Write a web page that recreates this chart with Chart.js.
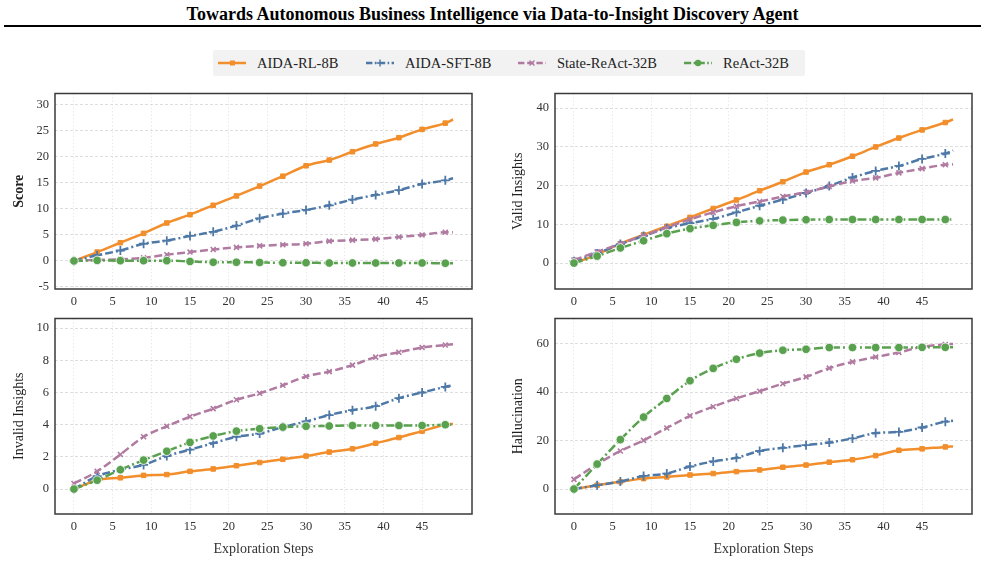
<!DOCTYPE html>
<html>
<head>
<meta charset="utf-8">
<script src="https://cdn.jsdelivr.net/npm/chart.js"></script>
<style>
    body { margin: 0; background: #fff; width: 985px; height: 577px; position: relative; overflow: hidden; font-family: "Liberation Serif", "DejaVu Serif", serif; }
    #title { position: absolute; left: 0; top: 4px; width: 985px; text-align: center; font-weight: bold; font-size: 18px; color: #000; }
    #rule { position: absolute; left: 4px; top: 25px; width: 977px; height: 2px; background: #000; }
    #legend { position: absolute; left: 213px; top: 50px; width: 592px; height: 26px; background: #f2f2f2; border-radius: 2px; display: flex; align-items: center; font-size: 14.5px; color: #222; }
    .item { display: flex; align-items: center; position: absolute; top: 0; height: 26px; }
    .item canvas { margin-right: 10px; }
    canvas.panel { position: absolute; }
</style>
</head>
<body>
<div id="title">Towards Autonomous Business Intelligence via Data-to-Insight Discovery Agent</div>
<div id="rule"></div>
<div id="legend"></div>

<canvas class="panel" id="chart-score" width="490" height="230" style="left:0px;top:80px"></canvas>
<canvas class="panel" id="chart-valid" width="495" height="230" style="left:490px;top:80px"></canvas>
<canvas class="panel" id="chart-invalid" width="490" height="255" style="left:0px;top:305px"></canvas>
<canvas class="panel" id="chart-hallu" width="495" height="255" style="left:490px;top:305px"></canvas>

<script>
// Exploration steps (markers every 3 steps, last point at 49)
const steps = [0, 3, 6, 9, 12, 15, 18, 21, 24, 27, 30, 33, 36, 39, 42, 45, 48, 49];
const xTicks = [0, 5, 10, 15, 20, 25, 30, 35, 40, 45];

const seriesNames = ['AIDA-RL-8B', 'AIDA-SFT-8B', 'State-ReAct-32B', 'ReAct-32B'];

// Score
const scoreRL = [0, 1.7, 3.5, 5.3, 7.3, 8.9, 10.7, 12.5, 14.4, 16.3, 18.3, 19.4, 21.0, 22.5, 23.7, 25.3, 26.5, 27.2];
const scoreSFT = [0, 1.1, 2.0, 3.3, 3.9, 4.8, 5.6, 6.8, 8.2, 9.1, 9.8, 10.7, 11.8, 12.7, 13.6, 14.8, 15.5, 15.9];
const scoreState = [0, 0.2, 0.3, 0.6, 1.2, 1.7, 2.2, 2.6, 2.9, 3.1, 3.3, 3.8, 4.0, 4.2, 4.6, 5.0, 5.5, 5.5];
const scoreReAct = [0, 0.1, 0.05, 0.05, 0.05, -0.1, -0.25, -0.25, -0.3, -0.35, -0.35, -0.4, -0.4, -0.4, -0.4, -0.4, -0.45, -0.45];
const scoreTicks = [-5, 0, 5, 10, 15, 20, 25, 30];

// Valid Insights
const validRL = [0, 2.2, 5.0, 7.3, 9.5, 11.8, 14.1, 16.3, 18.7, 21.0, 23.5, 25.4, 27.6, 30.0, 32.3, 34.4, 36.3, 37.1];
const validSFT = [0.5, 2.5, 4.9, 7.0, 9.0, 10.3, 11.4, 13.1, 14.8, 16.4, 18.1, 19.9, 22.1, 23.8, 25.1, 26.9, 28.3, 29.1];
const validState = [0.8, 2.9, 5.0, 7.1, 9.2, 11.3, 13.1, 14.7, 15.9, 17.2, 18.3, 19.8, 21.2, 22.0, 23.3, 24.4, 25.4, 25.5];
const validReAct = [0, 1.8, 3.9, 5.75, 7.6, 8.9, 9.75, 10.5, 10.9, 11.1, 11.2, 11.25, 11.25, 11.25, 11.25, 11.25, 11.25, 11.25];
const validTicks = [0, 10, 20, 30, 40];

// Invalid Insights
const invalidRL = [0, 0.55, 0.7, 0.85, 0.9, 1.1, 1.25, 1.45, 1.65, 1.85, 2.05, 2.3, 2.5, 2.85, 3.2, 3.6, 4.0, 4.05];
const invalidSFT = [0, 0.8, 1.2, 1.5, 2.05, 2.45, 2.85, 3.25, 3.45, 3.85, 4.2, 4.6, 4.9, 5.15, 5.65, 6.0, 6.35, 6.45];
const invalidState = [0.35, 1.1, 2.15, 3.25, 3.9, 4.5, 5.0, 5.55, 5.95, 6.45, 7.0, 7.3, 7.7, 8.2, 8.5, 8.8, 8.95, 9.0];
const invalidReAct = [0, 0.55, 1.2, 1.8, 2.35, 2.9, 3.3, 3.6, 3.75, 3.85, 3.9, 3.92, 3.95, 3.95, 3.95, 3.95, 4.0, 4.0];
const invalidTicks = [0, 2, 4, 6, 8, 10];

// Hallucination
const halluRL = [0, 1.6, 3.0, 4.3, 5.0, 5.8, 6.4, 7.2, 7.9, 9.0, 9.9, 11.1, 12.1, 13.8, 16.0, 16.6, 17.4, 17.6];
const halluSFT = [0, 1.6, 3.1, 5.4, 6.4, 9.3, 11.4, 12.9, 15.7, 17.0, 18.1, 19.2, 20.9, 23.1, 23.6, 25.4, 27.8, 28.2];
const halluState = [4.0, 10.3, 15.7, 20.1, 25.2, 30.2, 34.0, 37.4, 40.4, 43.5, 46.3, 49.9, 52.5, 54.5, 56.4, 58.7, 59.7, 59.9];
const halluReAct = [0, 10.3, 20.4, 29.7, 37.4, 44.7, 49.8, 53.6, 56.1, 57.3, 57.7, 58.4, 58.4, 58.4, 58.4, 58.5, 58.5, 58.5];
const halluTicks = [0, 20, 40, 60];

// Styles per series
const styles = [
    { color: '#f28e2b', dash: [], point: 'rect', radius: 3.2, border: 1 },
    { color: '#4e79a7', dash: [8, 3, 2, 3], point: 'cross', radius: 4.5, border: 1.8 },
    { color: '#b07aa1', dash: [8, 3.5], point: 'crossRot', radius: 3.5, border: 1.6 },
    { color: '#59a14f', dash: [9, 3, 2, 3], point: 'circle', radius: 4.3, border: 0.8 }
];

const FONT = '"Liberation Serif", "DejaVu Serif", serif';

// Four-sided frame around plot area
const framePlugin = {
    id: 'frame',
    afterDraw(chart) {
        const a = chart.chartArea;
        const ctx = chart.ctx;
        ctx.save();
        ctx.strokeStyle = '#3a3a3a';
        ctx.lineWidth = 1.5;
        ctx.strokeRect(a.left, a.top, a.right - a.left, a.bottom - a.top);
        ctx.restore();
    }
};

function makeChart(id, seriesList, opts) {
    const datasets = seriesList.map((values, i) => {
        const s = styles[i];
        return {
            label: seriesNames[i],
            data: steps.map((x, k) => ({ x, y: values[k] })),
            borderColor: s.color,
            backgroundColor: s.color,
            borderWidth: 2.5,
            borderDash: s.dash,
            cubicInterpolationMode: 'monotone',
            pointStyle: s.point,
            pointRadius: ctx => (ctx.raw && ctx.raw.x % 3 === 0) ? s.radius : 0,
            pointBorderWidth: s.border,
            pointBorderColor: s.point === 'circle' ? '#ffffff' : s.color,
            pointBackgroundColor: s.color,
            order: 3 - i
        };
    });

    return new Chart(document.getElementById(id), {
        type: 'line',
        data: { datasets },
        options: {
            responsive: false,
            animation: false,
            devicePixelRatio: 1,
            layout: { padding: { left: opts.padLeft, right: opts.padRight, top: opts.padTop, bottom: 0 } },
            plugins: { legend: { display: false }, tooltip: { enabled: false } },
            scales: {
                x: {
                    type: 'linear',
                    min: -2.45,
                    max: 51.45,
                    afterBuildTicks: scale => { scale.ticks = xTicks.map(v => ({ value: v })); },
                    afterFit: scale => { scale.height = opts.xHeight; },
                    ticks: { color: '#333', font: { family: FONT, size: 12.5 }, padding: 5, maxRotation: 0 },
                    grid: { color: '#e4e4e4', lineWidth: 0.8, drawTicks: false },
                    border: { display: false, dash: [1.5, 2] },
                    title: {
                        display: !!opts.xTitle,
                        text: opts.xTitle || '',
                        color: '#333',
                        font: { family: FONT, size: 14 },
                        padding: { top: 0, bottom: 2 }
                    }
                },
                y: {
                    min: opts.yMin,
                    max: opts.yMax,
                    afterBuildTicks: scale => { scale.ticks = opts.yTicks.map(v => ({ value: v })); },
                    afterFit: scale => { scale.width = opts.yWidth; },
                    ticks: { color: '#333', font: { family: FONT, size: 12.5 }, padding: 6 },
                    grid: { color: '#d6d6d6', lineWidth: 0.8, drawTicks: false },
                    border: { display: false, dash: [3, 2] },
                    title: {
                        display: true,
                        text: opts.yTitle,
                        color: '#222',
                        font: { family: FONT, size: 14, weight: opts.yBold ? 'bold' : 'normal' },
                        padding: { top: 0, bottom: 0 }
                    }
                }
            }
        },
        plugins: [framePlugin]
    });
}

makeChart('chart-score', [scoreRL, scoreSFT, scoreState, scoreReAct], {
    yMin: -5.4, yMax: 32.2, yTicks: scoreTicks, yTitle: 'Score', yBold: true,
    padLeft: 11, padRight: 18, padTop: 7, yWidth: 44, xHeight: 21
});
makeChart('chart-valid', [validRL, validSFT, validState, validReAct], {
    yMin: -6.7, yMax: 43.8, yTicks: validTicks, yTitle: 'Valid Insights',
    padLeft: 20, padRight: 13, padTop: 7, yWidth: 45, xHeight: 21
});
makeChart('chart-invalid', [invalidRL, invalidSFT, invalidState, invalidReAct], {
    yMin: -1.55, yMax: 10.6, yTicks: invalidTicks, yTitle: 'Invalid Insights',
    padLeft: 11, padRight: 18, padTop: 8, yWidth: 44, xHeight: 46, xTitle: 'Exploration Steps'
});
makeChart('chart-hallu', [halluRL, halluSFT, halluState, halluReAct], {
    yMin: -10.3, yMax: 70.4, yTicks: halluTicks, yTitle: 'Hallucination',
    padLeft: 20, padRight: 13, padTop: 8, yWidth: 45, xHeight: 46, xTitle: 'Exploration Steps'
});

// HTML legend with small line samples
const legendEl = document.getElementById('legend');
const legendX = [4, 152, 304, 470];
seriesNames.forEach((name, i) => {
    const s = styles[i];
    const item = document.createElement('div');
    item.className = 'item';
    item.style.left = legendX[i] + 'px';
    const c = document.createElement('canvas');
    c.width = 30; c.height = 14;
    const g = c.getContext('2d');
    g.strokeStyle = s.color;
    g.fillStyle = s.color;
    g.lineWidth = 2.5;
    g.setLineDash(s.dash.length ? s.dash.map(d => d * 0.8) : []);
    g.beginPath(); g.moveTo(1, 7); g.lineTo(29, 7); g.stroke();
    g.setLineDash([]);
    g.lineWidth = 1.4;
    if (s.point === 'rect') {
        g.fillRect(13, 4.5, 5, 5);
    } else if (s.point === 'cross') {
        g.beginPath(); g.moveTo(15, 3.5); g.lineTo(15, 10.5); g.moveTo(11.5, 7); g.lineTo(18.5, 7); g.stroke();
    } else if (s.point === 'crossRot') {
        g.beginPath(); g.moveTo(12.5, 4.5); g.lineTo(17.5, 9.5); g.moveTo(17.5, 4.5); g.lineTo(12.5, 9.5); g.stroke();
    } else {
        g.beginPath(); g.arc(15, 7, 3.2, 0, Math.PI * 2); g.fill();
    }
    const label = document.createElement('span');
    label.textContent = name;
    item.appendChild(c);
    item.appendChild(label);
    legendEl.appendChild(item);
});
</script>
</body>
</html>
